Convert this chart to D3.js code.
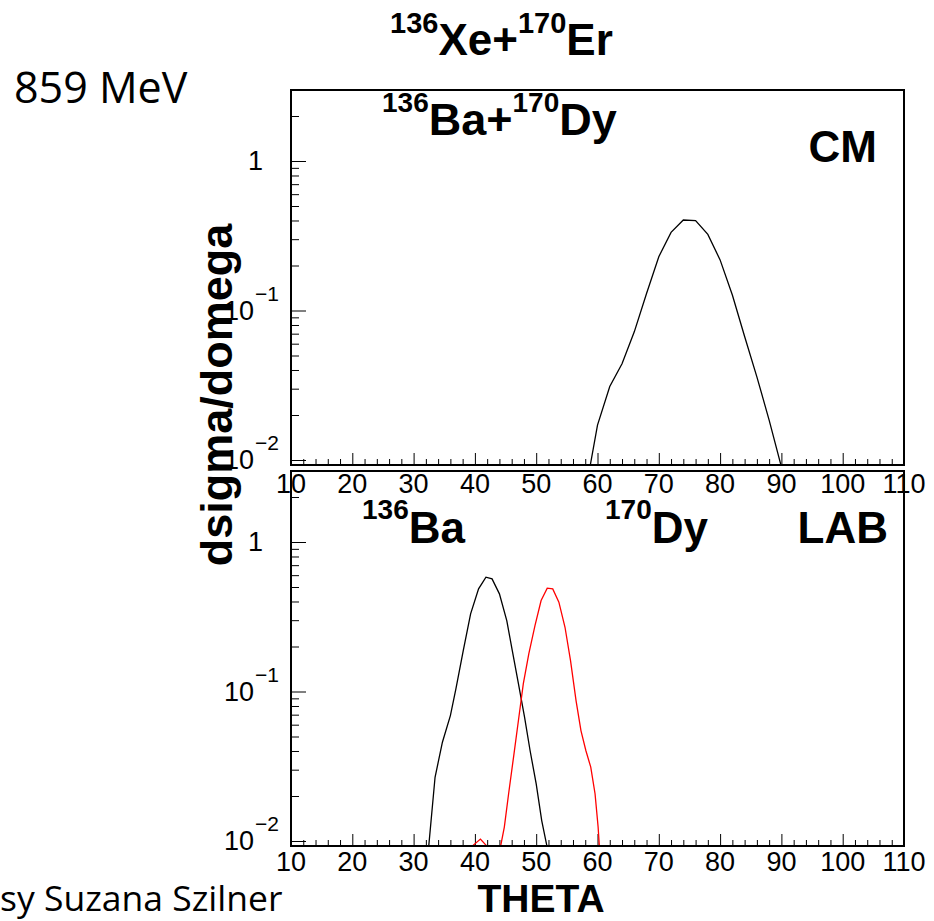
<!DOCTYPE html>
<html><head><meta charset="utf-8">
<script src="https://cdn.jsdelivr.net/npm/d3@7"></script>
<style>body{margin:0;background:#fff;} svg{display:block;}</style>
</head><body>
<script>
// ---------------- data ----------------
const xTickValues = [10,20,30,40,50,60,70,80,90,100,110];
const xTickLabels = ["10","20","30","40","50","60","70","80","90","100","110"];
const yTickValues = [1, 0.1, 0.01];
const yTickBase = ["1", "10", "10"];
const yTickExp = ["", "\u22121", "\u22122"];

// CM distribution (upper panel)
const cmTheta = [58,60,62,64,66,68,70,72,74,76,78,80,82,84,86,88,90];
const cmValue = [0.006,0.0171,0.031,0.044,0.072,0.130,0.229,0.333,0.403,0.399,0.323,0.218,0.127,0.067,0.036,0.0185,0.009];

// LAB distributions (lower panel)
const baTheta = [32.2,33.5,34.7,36.0,36.9,38.1,39.3,40.6,41.8,42.8,44.0,45.2,46.1,47.1,48.1,49.0,50.0,50.9,52.2];
const baValue = [0.007,0.0267,0.0458,0.069,0.104,0.188,0.331,0.486,0.582,0.567,0.450,0.298,0.188,0.113,0.0673,0.0403,0.0241,0.0137,0.0075];
const dyTheta = [39.5,40.9,42.0,43.9,44.8,45.5,46.3,47.1,47.9,48.8,49.8,50.8,51.8,52.7,53.7,54.7,55.6,56.5,57.3,58.1,58.9,59.6,60.1,60.6];
const dyValue = [0.0092,0.0103,0.0092,0.008,0.0124,0.0207,0.0363,0.064,0.113,0.179,0.276,0.406,0.491,0.486,0.396,0.269,0.161,0.087,0.0548,0.0403,0.0312,0.0207,0.0124,0.006];

// ---------------- layout ----------------
const W = 934, H = 921;
const X0 = 291, X1 = 904;
const panels = [
  {top: 90, bottom: 465, labelDy: 28, series: [{t: cmTheta, v: cmValue, color: "#000"}]},
  {top: 471, bottom: 846, labelDy: 25, series: [{t: baTheta, v: baValue, color: "#000"}, {t: dyTheta, v: dyValue, color: "#ff0000"}]}
];
const yMin = 0.00926, yMax = 2.985;
const font = "'Liberation Sans', Arial, Helvetica, sans-serif";

const svg = d3.select("body").append("svg").attr("width", W).attr("height", H)
  .style("font-family", font);

const x = d3.scaleLinear().domain([10, 110]).range([X0, X1]);
const xMinor = d3.range(10, 110.001, 2).filter(d => d % 10 !== 0);
const yMinor = [];
[0.01, 0.1, 1].forEach(d => { for (let k = 2; k <= 9; k++) { const v = d * k; if (v <= yMax) yMinor.push(v); } });

panels.forEach((p, i) => {
  const y = d3.scaleLog().domain([yMin, yMax]).range([p.bottom, p.top]);
  const g = svg.append("g");

  const cid = "clip" + i;
  svg.append("clipPath").attr("id", cid).append("rect")
    .attr("x", X0).attr("y", p.top).attr("width", X1 - X0).attr("height", p.bottom - p.top);

  // x ticks (pointing up into the frame)
  g.append("g").attr("transform", `translate(0,${p.bottom})`)
    .call(d3.axisBottom(x).tickValues(xMinor).tickSize(-6).tickFormat(""))
    .call(a => a.select(".domain").remove())
    .call(a => a.selectAll("line").attr("stroke", "#000").attr("stroke-width", 1));
  g.append("g").attr("transform", `translate(0,${p.bottom})`)
    .call(d3.axisBottom(x).tickValues(xTickValues).tickSize(-12).tickFormat(""))
    .call(a => a.select(".domain").remove())
    .call(a => a.selectAll("line").attr("stroke", "#000").attr("stroke-width", 1));

  // y ticks (pointing right into the frame)
  g.append("g").attr("transform", `translate(${X0},0)`)
    .call(d3.axisLeft(y).tickValues(yMinor).tickSize(-8).tickFormat(""))
    .call(a => a.select(".domain").remove())
    .call(a => a.selectAll("line").attr("stroke", "#000").attr("stroke-width", 1));
  g.append("g").attr("transform", `translate(${X0},0)`)
    .call(d3.axisLeft(y).tickValues(yTickValues).tickSize(-15).tickFormat(""))
    .call(a => a.select(".domain").remove())
    .call(a => a.selectAll("line").attr("stroke", "#000").attr("stroke-width", 1));

  // curves
  const line = d3.line().x(d => x(d[0])).y(d => y(d[1]));
  p.series.forEach(s => {
    const pts = s.t.map((t, j) => [t, s.v[j]]);
    g.append("path").attr("d", line(pts)).attr("fill", "none")
      .attr("stroke", s.color).attr("stroke-width", 1.3)
      .attr("clip-path", `url(#${cid})`);
  });

  // frame
  g.append("rect").attr("x", X0).attr("y", p.top).attr("width", X1 - X0).attr("height", p.bottom - p.top)
    .attr("fill", "none").attr("stroke", "#000").attr("stroke-width", 2);

  // x tick labels
  g.selectAll("text.xl").data(xTickValues).join("text").attr("class", "xl")
    .attr("x", d => x(d)).attr("y", p.bottom + p.labelDy)
    .attr("text-anchor", "middle").attr("font-size", 27).text((d, j) => xTickLabels[j]);

  // y tick labels
  yTickValues.forEach((v, j) => {
    const ty = y(v);
    if (yTickExp[j] === "") {
      g.append("text").attr("x", 263).attr("y", ty + 9).attr("text-anchor", "end")
        .attr("font-size", 27).text(yTickBase[j]);
    } else {
      g.append("text").attr("x", 254).attr("y", ty + 9).attr("text-anchor", "end")
        .attr("font-size", 27).text(yTickBase[j]);
      g.append("text").attr("x", 255).attr("y", ty - 10).attr("text-anchor", "start")
        .attr("font-size", 21).text(yTickExp[j]);
    }
  });
});

// ---------------- titles & annotations ----------------
function isoText(xp, yBase, parts, mainSize, supSize, anchor) {
  const t = svg.append("text").attr("x", xp).attr("y", yBase)
    .attr("font-weight", "bold").attr("text-anchor", anchor || "start");
  parts.forEach(pt => {
    t.append("tspan").attr("font-size", pt.sup ? supSize : mainSize)
      .attr("dy", pt.dy).text(pt.s);
  });
  return t;
}
// 136Xe+170Er
isoText(390, 55, [{s:"136", sup:true, dy:-22},{s:"Xe+", dy:22},{s:"170", sup:true, dy:-22},{s:"Er", dy:22}], 44, 29);
// 136Ba+170Dy
isoText(382, 135, [{s:"136", sup:true, dy:-23},{s:"Ba+", dy:23},{s:"170", sup:true, dy:-23},{s:"Dy", dy:23}], 45, 28);
// CM
svg.append("text").attr("x", 877).attr("y", 162).attr("text-anchor", "end")
  .attr("font-weight", "bold").attr("font-size", 44).text("CM");
// lower labels
isoText(362, 543, [{s:"136", sup:true, dy:-24},{s:"Ba", dy:24}], 44, 28);
isoText(605, 543, [{s:"170", sup:true, dy:-24},{s:"Dy", dy:24}], 44, 28);
svg.append("text").attr("x", 888).attr("y", 543).attr("text-anchor", "end")
  .attr("font-weight", "bold").attr("font-size", 44).text("LAB");

// axis titles
svg.append("text").attr("transform", "translate(232,395) rotate(-90)")
  .attr("text-anchor", "middle").attr("font-weight", "bold").attr("font-size", 45).text("dsigma/domega");
svg.append("text").attr("x", 541).attr("y", 912).attr("text-anchor", "middle")
  .attr("font-weight", "bold").attr("font-size", 39).text("THETA");

// slide annotations
svg.append("text").attr("x", 14).attr("y", 103).attr("font-family", "'Open Sans', 'Noto Sans', sans-serif")
  .attr("font-size", 43).text("859 MeV");
svg.append("text").attr("x", 0).attr("y", 911).attr("font-family", "'Open Sans', 'Noto Sans', sans-serif")
  .attr("font-size", 35.5).text("sy Suzana Szilner");
</script>
</body></html>
